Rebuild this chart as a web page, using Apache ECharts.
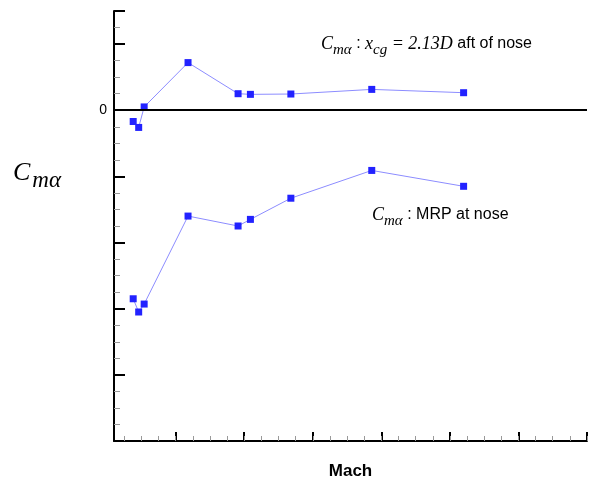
<!DOCTYPE html>
<html lang="en">
<head>
    <meta charset="UTF-8">
    <title>Cm alpha vs Mach</title>
    <script src="https://cdn.jsdelivr.net/npm/echarts@6/dist/echarts.min.js"></script>
</head>
<body style="margin:0">
<div id="main" style="width: 589px;height:480px;"></div>
<script>
    // Mach values (same for both runs)
    var mach = [0.19, 0.23, 0.27, 0.59, 0.955, 1.045, 1.34, 1.93, 2.6];
    // Cm_alpha, cg at 2.13D aft of nose
    var cmCg = [-0.17, -0.26, 0.05, 0.72, 0.25, 0.24, 0.245, 0.315, 0.265];
    // Cm_alpha, moment reference at nose
    var cmNose = [-2.85, -3.05, -2.93, -1.60, -1.75, -1.65, -1.33, -0.91, -1.15];
    var majorX = [0.5, 1, 1.5, 2, 2.5, 3, 3.5];
    var minorX = [];
    for (var i = 0; i < 28; i++) minorX.push(0.125 + i * 0.125);

    function pairs(xs, ys) {
        return xs.map(function (x, k) { return [x, ys[k]]; });
    }

    var myChart = echarts.init(document.getElementById('main'));

    var richCg = {
        c: {fontFamily: 'Liberation Serif', fontStyle: 'italic', fontSize: 18, fill: '#000', padding: [0, 0, 5, 0]},
        s: {fontFamily: 'Liberation Serif', fontStyle: 'italic', fontSize: 15, fill: '#000', padding: [7, 0, 0, 0]},
        t: {fontFamily: 'Liberation Sans', fontSize: 16, fill: '#000', padding: [0, 0, 5, 0]}
    };

    option = {
        animation: false,
        grid: {left: 114, right: 2, top: 11, bottom: 39, outerBoundsMode: 'none', containLabel: false},
        xAxis: [
            {
                type: 'value',
                min: 0.05, max: 3.5,
                name: 'Mach',
                nameLocation: 'middle',
                nameGap: 22,
                nameTextStyle: {fontFamily: 'Liberation Sans', fontWeight: 'bold', fontSize: 17, color: '#000'},
                axisLine: {show: true, onZero: false, lineStyle: {color: '#000', width: 2}},
                axisTick: {show: true, inside: true, length: 9, customValues: majorX, lineStyle: {color: '#000', width: 2}},
                axisLabel: {show: false},
                splitLine: {show: false}
            },
            {
                type: 'value',
                min: 0.05, max: 3.5,
                position: 'bottom',
                axisLine: {show: false, onZero: false},
                axisTick: {show: true, inside: true, length: 5, customValues: minorX, lineStyle: {color: '#999', width: 1}},
                axisLabel: {show: false},
                splitLine: {show: false}
            }
        ],
        yAxis: {
            type: 'value',
            min: -5, max: 1.5, interval: 1,
            axisLine: {show: true, onZero: false, lineStyle: {color: '#000', width: 2}},
            axisTick: {show: true, inside: true, length: 11, lineStyle: {color: '#000', width: 2}},
            minorTick: {show: true, splitNumber: 4, length: 6, lineStyle: {color: '#999', width: 1}},
            axisLabel: {
                margin: 7, fontSize: 14, color: '#000', fontFamily: 'Liberation Sans',
                formatter: function (v) { return v === 0 ? '0' : ''; }
            },
            splitLine: {show: false}
        },
        graphic: [
            {
                type: 'text', left: 13, top: 160,
                style: {
                    text: '{c|C}{s|mα}',
                    rich: {
                        c: {fontFamily: 'Liberation Serif', fontStyle: 'italic', fontSize: 26, fill: '#000', padding: [0, 2, 8, 0]},
                        s: {fontFamily: 'Liberation Serif', fontStyle: 'italic', fontSize: 23, fill: '#000', padding: [8, 0, 0, 0]}
                    }
                }
            },
            {
                type: 'text', left: 321, top: 35,
                style: {
                    text: '{c|C}{s|mα}{t| : }{c|x}{s|cg}{c| = 2.13D}{t| aft of nose}',
                    rich: richCg
                }
            },
            {
                type: 'text', left: 372, top: 206,
                style: {
                    text: '{c|C}{s|mα}{t| : MRP at nose}',
                    rich: richCg
                }
            }
        ],
        series: [
            {
                name: 'cg', type: 'line',
                data: pairs(mach, cmCg),
                symbol: 'rect', symbolSize: 7,
                lineStyle: {color: '#8c8cff', width: 1},
                itemStyle: {color: '#2222ff'},
                markLine: {
                    silent: true, symbol: 'none', label: {show: false},
                    lineStyle: {color: '#000', width: 2, type: 'solid'},
                    data: [{yAxis: 0}]
                },
                z: 3
            },
            {
                name: 'nose', type: 'line',
                data: pairs(mach, cmNose),
                symbol: 'rect', symbolSize: 7,
                lineStyle: {color: '#8c8cff', width: 1},
                itemStyle: {color: '#2222ff'},
                z: 3
            }
        ]
    };

    myChart.setOption(option);
</script>
</body>
</html>
